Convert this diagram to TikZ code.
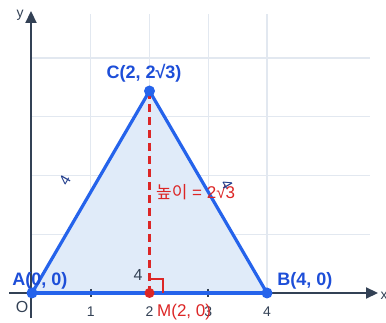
\documentclass[tikz,border=0pt]{standalone}
\usepackage{fontspec}
\setmainfont{Liberation Sans}
\newfontfamily\krfont{Noto Sans CJK KR}
\usetikzlibrary{arrows.meta}
\definecolor{triblue}{HTML}{2563EB}
\definecolor{lblblue}{HTML}{1D4ED8}
\definecolor{redc}{HTML}{DC2626}
\definecolor{axisc}{HTML}{334155}
\definecolor{gridc}{HTML}{E2E8F0}
\definecolor{fillc}{HTML}{E0EBF9}
\definecolor{navy}{HTML}{1E3A8A}
\tikzset{
  gridline/.style={draw=gridc, line width=1.2pt},
  axisline/.style={draw=axisc, line width=2.2pt, -{Triangle[length=12pt,width=11pt]}},
  edge/.style={draw=triblue, line width=3.2pt, line cap=round},
  vdot/.style={circle, fill=triblue, inner sep=0pt, minimum size=11pt},
  mdot/.style={circle, fill=redc, inner sep=0pt, minimum size=10pt},
  ptlabel/.style={text=lblblue, font=\bfseries\fontsize{18}{20}\selectfont, inner sep=0pt},
  ticklabel/.style={text=axisc, font=\fontsize{14}{16}\selectfont, inner sep=0pt},
  redlabel/.style={text=redc, font=\fontsize{17}{19}\selectfont, inner sep=0pt},
  sidelabel/.style={text=navy, font=\fontsize{15}{17}\selectfont, inner sep=0pt},
}
\begin{document}
\begin{tikzpicture}[x=1pt,y=-1pt]
\useasboundingbox (0,0) rectangle (386,323);
% grid
\foreach \gx in {90.75,149.5,208.25,267} \draw[gridline] (\gx,14) -- (\gx,293);
\foreach \gy in {234.25,175.5,116.75,58} \draw[gridline] (32,\gy) -- (370,\gy);
% points
\coordinate (A) at (32,293);
\coordinate (B) at (267,293);
\coordinate (C) at (149.5,91);
\coordinate (M) at (149.5,293);
% fill
\fill[fillc] (A) -- (B) -- (C) -- cycle;
% axes
\coordinate (xs) at (9,293);
\coordinate (xe) at (378,293);
\coordinate (ys) at (31,318);
\coordinate (ye) at (31,11);
\draw[axisline] (xs) -- (xe);
\draw[axisline] (ys) -- (ye);
\node[ticklabel] (xl) at (384,296) {x};
\node[ticklabel] (yl) at (20,15) {y};
\node[ticklabel, font=\fontsize{16}{18}\selectfont] (ol) at (22,307) {O};
% ticks
\foreach \tx in {90.75,208.25} {
  \draw[axisc, line width=1.6pt] (\tx,289) -- (\tx,297);
}
\node[ticklabel] (t1) at (90.75,312) {1};
\node[ticklabel] (t2) at (149.5,312) {2};
\node[ticklabel] (t3) at (208.25,312) {3};
\node[ticklabel] (t4) at (267,312) {4};
% triangle
\draw[edge] (A) -- (B);
\draw[edge] (B) -- (C);
\draw[edge] (C) -- (A);
% height
\draw[redc, line width=2.2pt, dash pattern=on 8pt off 5pt] (C) -- (M);
\coordinate (r1) at (149.5,279);
\coordinate (r2) at (163,279);
\coordinate (r3) at (163,293);
\draw[redc, line width=1.6pt] (r1) -- (r2) -- (r3);
% dots
\node[vdot] (Ad) at (A) {};
\node[vdot] (Bd) at (B) {};
\node[vdot] (Cd) at (C) {};
\node[mdot] (Md) at (M) {};
% labels
\node[ptlabel] (Al) at (40,281) {A(0, 0)};
\node[ptlabel] (Bl) at (305,281) {B(4, 0)};
\node[ptlabel] (Cl) at (144,73) {C(2, 2√3)};
\node[redlabel, anchor=west] (Ml) at (157,312) {M(2, 0)};
\node[redlabel, anchor=west] (hl) at (156,192) {{\krfont 높이} = 2√3};
\node[sidelabel, rotate=60] (s1) at (65,180) {4};
\node[sidelabel, rotate=-60] (s2) at (227,185) {4};
\node[ticklabel, font=\fontsize{16}{18}\selectfont] (s3) at (138,275) {4};
\end{tikzpicture}
\end{document}
